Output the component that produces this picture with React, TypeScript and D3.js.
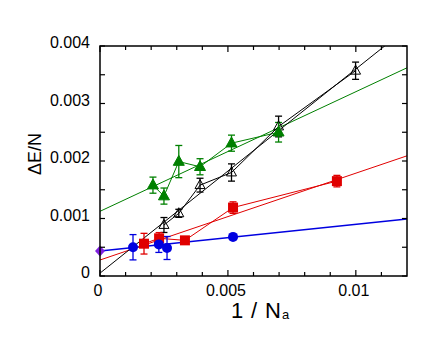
import React from "react";
import * as d3 from "d3";

const W = 427;
const H = 345;
const M = { left: 100, right: 407, top: 46, bottom: 276 };

const xTicksMajor = [0, 0.005, 0.01];
const xTicksMinor = [0.001, 0.002, 0.003, 0.004, 0.006, 0.007, 0.008, 0.009, 0.011];
const xTickLabels = ["0", "0.005", "0.01"];
const yTicks = [0, 0.0005, 0.001, 0.0015, 0.002, 0.0025, 0.003, 0.0035, 0.004];
const yLabelTicks = [0, 0.001, 0.002, 0.003, 0.004];
const yTickLabels = ["0", "0.001", "0.002", "0.003", "0.004"];

// blue circles
const blueX = [0.00129, 0.0023, 0.00262, 0.0052];
const blueY = [0.0005, 0.00055, 0.000487, 0.00068];
const blueErr = [0.00022, 0.00014, 0.0002, 0.00003];
const blueFit = [0.000435, 0.0463];
// purple diamond (extrapolated)
const purpleX = [0];
const purpleY = [0.000435];

// red squares
const redX = [0.00172, 0.00231, 0.00332, 0.0052, 0.00926];
const redY = [0.000562, 0.000655, 0.00062, 0.00119, 0.00165];
const redErr = [0.00018, 0.0001, 0.00005, 0.0001, 0.0001];
const redFit = [0.000278, 0.151];

// green filled triangles
const greenX = [0.00207, 0.0025, 0.00308, 0.00391, 0.00514, 0.00698];
const greenY = [0.00158, 0.00139, 0.00199, 0.0019, 0.00231, 0.0025];
const greenErr = [0.00014, 0.00014, 0.00028, 0.00014, 0.00014, 0.00017];
const greenFit = [0.001125, 0.208];

// black open triangles
const blackX = [0.0025, 0.00308, 0.00391, 0.00514, 0.00698, 0.00999];
const blackY = [0.000887, 0.00109, 0.00158, 0.0018, 0.0026, 0.00357];
const blackErr = [0.00013, 0.00007, 0.00012, 0.00015, 0.00018, 0.00015];
const blackFit = [0.00005, 0.355];

const BLUE = "#0000e0";
const RED = "#e00000";
const GREEN = "#008000";
const BLACK = "#000000";
const PURPLE = "#8020e0";

const FONT = "'Liberation Sans', Arial, Helvetica, sans-serif";

const x = d3.scaleLinear().domain([0, 0.012]).range([M.left, M.right]);
const y = d3.scaleLinear().domain([0, 0.004]).range([M.bottom, M.top]);

const line = d3
  .line<[number, number]>()
  .x((d) => x(d[0]))
  .y((d) => y(d[1]));

function fitPath(fit: number[]) {
  const xs = [0, 0.012];
  return line(xs.map((v) => [v, fit[0] + fit[1] * v] as [number, number])) || "";
}

function polyPath(xs: number[], ys: number[]) {
  return line(xs.map((v, i) => [v, ys[i]] as [number, number])) || "";
}

function ErrorBars({ xs, ys, es, color }: { xs: number[]; ys: number[]; es: number[]; color: string }) {
  return (
    <g stroke={color} strokeWidth={1.3}>
      {xs.map((v, i) => {
        const cx = x(v);
        const y1 = y(ys[i] - es[i]);
        const y2 = y(ys[i] + es[i]);
        return (
          <g key={i}>
            <line x1={cx} x2={cx} y1={y1} y2={y2} />
            <line x1={cx - 3.5} x2={cx + 3.5} y1={y1} y2={y1} />
            <line x1={cx - 3.5} x2={cx + 3.5} y1={y2} y2={y2} />
          </g>
        );
      })}
    </g>
  );
}

function triPath(cx: number, cy: number, s: number) {
  const h = s * 0.9;
  return `M${cx},${cy - h * 0.62}L${cx + s / 2},${cy + h * 0.38}L${cx - s / 2},${cy + h * 0.38}Z`;
}

export default function App() {
  return (
    <svg
      width={W}
      height={H}
      style={{ position: "absolute", left: 0, top: 0, background: "#fff" }}
      fontFamily={FONT}
    >
      <defs>
        <clipPath id="plotclip">
          <rect x={M.left} y={M.top} width={M.right - M.left} height={M.bottom - M.top} />
        </clipPath>
      </defs>
      <rect width={W} height={H} fill="#fff" />

      <g clipPath="url(#plotclip)" fill="none" strokeWidth={1}>
        <path d={fitPath(blueFit)} stroke={BLUE} strokeWidth={1.4} />
        <path d={fitPath(redFit)} stroke={RED} />
        <path d={fitPath(greenFit)} stroke={GREEN} />
        <path d={fitPath(blackFit)} stroke={BLACK} />
        <path d={polyPath(redX, redY)} stroke={RED} />
        <path d={polyPath(greenX, greenY)} stroke={GREEN} />
        <path d={polyPath(blackX, blackY)} stroke={BLACK} />
      </g>

      <ErrorBars xs={blackX} ys={blackY} es={blackErr} color={BLACK} />
      <ErrorBars xs={greenX} ys={greenY} es={greenErr} color={GREEN} />
      <ErrorBars xs={redX} ys={redY} es={redErr} color={RED} />
      <ErrorBars xs={blueX} ys={blueY} es={blueErr} color={BLUE} />

      {blackX.map((v, i) => (
        <path key={"k" + i} d={triPath(x(v), y(blackY[i]), 10)} fill="none" stroke={BLACK} strokeWidth={1} />
      ))}
      {greenX.map((v, i) => (
        <path key={"g" + i} d={triPath(x(v), y(greenY[i]), 11)} fill={GREEN} stroke={GREEN} strokeWidth={1} />
      ))}
      {redX.map((v, i) => (
        <rect key={"r" + i} x={x(v) - 5} y={y(redY[i]) - 5} width={10} height={10} fill={RED} />
      ))}
      {blueX.map((v, i) => (
        <circle key={"b" + i} cx={x(v)} cy={y(blueY[i])} r={5} fill={BLUE} />
      ))}
      {purpleX.map((v, i) => {
        const cx = x(v);
        const cy = y(purpleY[i]);
        return (
          <path
            key={"p" + i}
            d={`M${cx},${cy - 5.5}L${cx + 5},${cy}L${cx},${cy + 5.5}L${cx - 5},${cy}Z`}
            fill={PURPLE}
          />
        );
      })}

      {/* axes frame */}
      <rect
        x={M.left}
        y={M.top}
        width={M.right - M.left}
        height={M.bottom - M.top}
        fill="none"
        stroke="#000"
        strokeWidth={1.5}
      />
      <g stroke="#000" strokeWidth={1.2}>
        {xTicksMajor.map((t, i) => (
          <g key={"xm" + i}>
            <line x1={x(t)} x2={x(t)} y1={M.bottom} y2={M.bottom - 6} />
            <line x1={x(t)} x2={x(t)} y1={M.top} y2={M.top + 6} />
          </g>
        ))}
        {xTicksMinor.map((t, i) => (
          <g key={"xn" + i}>
            <line x1={x(t)} x2={x(t)} y1={M.bottom} y2={M.bottom - 4} />
            <line x1={x(t)} x2={x(t)} y1={M.top} y2={M.top + 4} />
          </g>
        ))}
        {yTicks.map((t, i) => (
          <g key={"y" + i}>
            <line x1={M.left} x2={M.left + 5} y1={y(t)} y2={y(t)} />
            <line x1={M.right} x2={M.right - 5} y1={y(t)} y2={y(t)} />
          </g>
        ))}
      </g>

      <g fontSize={16} fill="#000">
        {xTicksMajor.map((t, i) => (
          <text key={"xl" + i} x={x(t) - 2} y={296} textAnchor="middle">
            {xTickLabels[i]}
          </text>
        ))}
        {yLabelTicks.map((t, i) => (
          <text key={"yl" + i} x={90} y={y(t) + 2} textAnchor="end">
            {yTickLabels[i]}
          </text>
        ))}
      </g>

      <text
        transform={`translate(41,154) rotate(-90)`}
        textAnchor="middle"
        fontSize={18}
        fill="#000"
      >
        ΔE/N
      </text>
      <text y={318} fontSize={22} fill="#000">
        <tspan x={231}>1</tspan>
        <tspan x={251}>/</tspan>
        <tspan x={265}>N</tspan>
        <tspan x={282} fontSize={13} dy={1}>a</tspan>
      </text>
    </svg>
  );
}
